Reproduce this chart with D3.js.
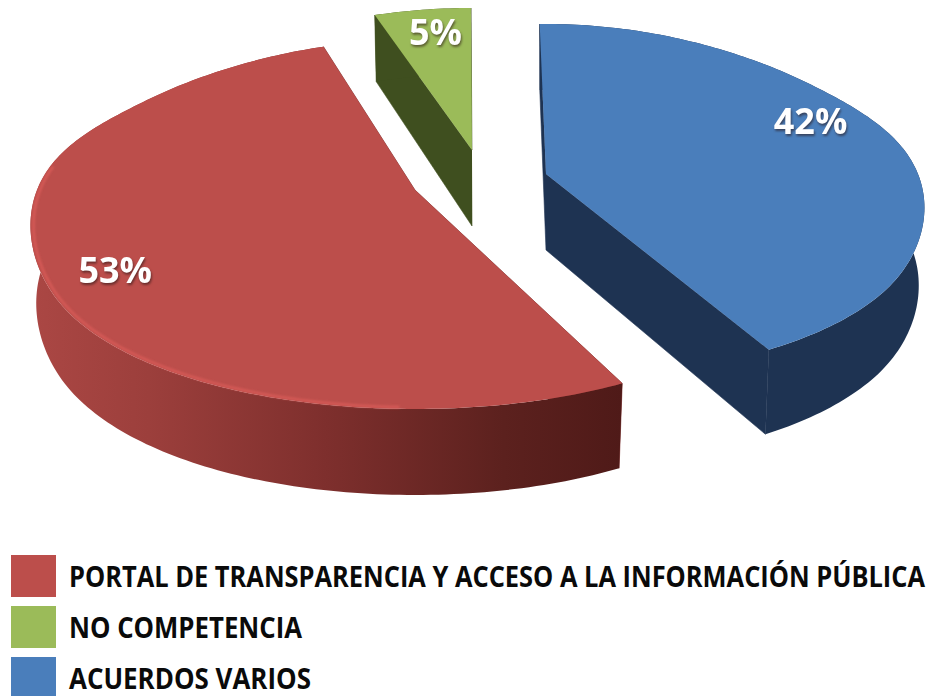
<!DOCTYPE html>
<html>
<head>
<meta charset="utf-8">
<title>Pie 3D</title>
<style>
  html, body { margin: 0; padding: 0; background: #fff; overflow: hidden; }
  svg { display: block; }
  .pct { font-family: "Open Sans", sans-serif; font-weight: 700; font-size: 36px; fill: #fff; text-anchor: middle;
         filter: drop-shadow(1px 2px 1px rgba(40,20,20,.55)); }
  .legend text { font-family: "Open Sans", sans-serif; font-weight: 700; font-size: 28px; fill: #0a0a0a; }
</style>
</head>
<body>
<svg width="928" height="696"></svg>
<script src="https://d3js.org/d3.v7.min.js"></script>
<script>
const categories = ["PORTAL DE TRANSPARENCIA Y ACCESO A LA INFORMACIÓN PÚBLICA", "NO COMPETENCIA", "ACUERDOS VARIOS"];
const values = [53, 5, 42];
const colors = ["#bc4e4b", "#9bbb59", "#4a7ebb"];
const darkColors = ["#7a2c2a", "#3f4f1f", "#1e3352"];
const legendWidths = [856, 233, 242];

const rad = Math.PI / 180;
const perspective = .19;

// each exploded slice has its own apex and slightly different ellipse, the original is a photo of a 3D chart
const shapes = [
  {c: [415, 190], rx: 378, back: 150, front: 219, twist0: 1, twist1: 1, label: {turn: -3.5, f: .82}},
  {c: [472, 150], rx: 380, back: 142, front: 200, twist0: 0, twist1: 0, label: {turn: 1, f: .83}},
  {c: [546, 174], rx: 372, back: 150, front: 205, twist0: -1, twist1: -2, label: {turn: -9, f: .84}}
];

const svg = d3.select("svg");

// red starts at the lower right and runs clockwise
const pie = d3.pie().sort(null).startAngle(151 * rad).endAngle(511 * rad);
const slices = pie(values).map((d, i) => ({
  i,
  s: shapes[i],
  a0: d.startAngle + shapes[i].twist0 * rad,
  a1: d.endAngle + shapes[i].twist1 * rad,
  mid: (d.startAngle + d.endAngle) / 2
}));

const blend = d3.scaleLinear().domain([-.6, .6]).range([0, 1]).clamp(true);

// point on the top face
function project(s, a, f) {
  const sn = Math.sin(a), k = Math.cos(a);
  const t = blend(k), w = t * t * (3 - 2 * t);
  return [
    s.c[0] + s.rx * f * sn * (1 - perspective * k),
    s.c[1] - (s.back * w + s.front * (1 - w)) * f * k
  ];
}
// same point on the bottom face
function projectLow(s, a, f) {
  const p = project(s, a, f);
  return [s.c[0] + (p[0] - s.c[0]) * .985, p[1] + 76 - 10 * Math.cos(a) * f];
}
function sweep(a0, a1) {
  const n = Math.ceil(Math.abs(a1 - a0) / rad);
  return d3.range(n + 1).map(i => a0 + (a1 - a0) * i / n);
}
const line = d3.line();

const defs = svg.append("defs");
const rimGrad = defs.append("linearGradient").attr("id", "rimRed")
  .attr("gradientUnits", "userSpaceOnUse").attr("x1", 30).attr("x2", 622).attr("y1", 0).attr("y2", 0);
[[0, "#ab4744"], [.2, "#9c3f3c"], [.5, "#7e2f2d"], [.8, "#5c211e"], [1, "#4f1a18"]].forEach(d => {
  rimGrad.append("stop").attr("offset", d[0]).attr("stop-color", d[1]);
});
defs.append("filter").attr("id", "soft").append("feGaussianBlur").attr("stdDeviation", 1.3);

const g = svg.append("g").selectAll("g").data(slices).join("g");

function fillOf(d) {
  return d.i === 0 ? "url(#rimRed)" : darkColors[d.i];
}

// cut faces
g.append("path")
  .attr("fill", d => darkColors[d.i]).attr("stroke", d => darkColors[d.i]).attr("stroke-width", .6)
  .attr("d", d => line([d.s.c, project(d.s, d.a0, 1), projectLow(d.s, d.a0, 1), projectLow(d.s, d.a0, 0)]));
g.append("path")
  .attr("fill", d => darkColors[d.i]).attr("stroke", d => darkColors[d.i]).attr("stroke-width", .6)
  .attr("d", d => line([d.s.c, project(d.s, d.a1, 1), projectLow(d.s, d.a1, 1), projectLow(d.s, d.a1, 0)]));

// outer rim
g.append("path")
  .attr("fill", fillOf)
  .attr("d", d => {
    const as = sweep(d.a0, d.a1);
    return line(as.map(a => project(d.s, a, 1)).concat(as.slice().reverse().map(a => projectLow(d.s, a, 1)))) + "Z";
  });

// top face
g.append("path")
  .attr("fill", d => colors[d.i])
  .attr("d", d => line([d.s.c].concat(sweep(d.a0, d.a1).map(a => project(d.s, a, 1)))) + "Z");

// light edge on the red slice
g.filter(d => d.i === 0).append("path")
  .attr("fill", "none").attr("stroke", "#d65a57").attr("stroke-width", 2.5).attr("filter", "url(#soft)")
  .attr("d", d => line(sweep(d.a0 + 30 * rad, d.a1 - 65 * rad).map(a => project(d.s, a, .992))));

g.append("text").attr("class", "pct")
  .attr("transform", d => {
    const l = d.s.label;
    const p = project(d.s, d.mid + l.turn * rad, l.f);
    return `translate(${p[0]},${p[1] + 12})`;
  })
  .text(d => values[d.i] + "%");

// legend
const rows = d3.scalePoint().domain(categories).range([555, 657]);
const legend = svg.append("g").attr("class", "legend").selectAll("g").data(categories).join("g")
  .attr("transform", d => `translate(0,${rows(d)})`);
legend.append("rect")
  .attr("x", 11).attr("width", 45).attr("height", 42)
  .attr("fill", (d, i) => colors[i]);
legend.append("text")
  .attr("x", 69).attr("y", 32)
  .attr("textLength", (d, i) => legendWidths[i]).attr("lengthAdjust", "spacingAndGlyphs")
  .text(d => d);
</script>
</body>
</html>
